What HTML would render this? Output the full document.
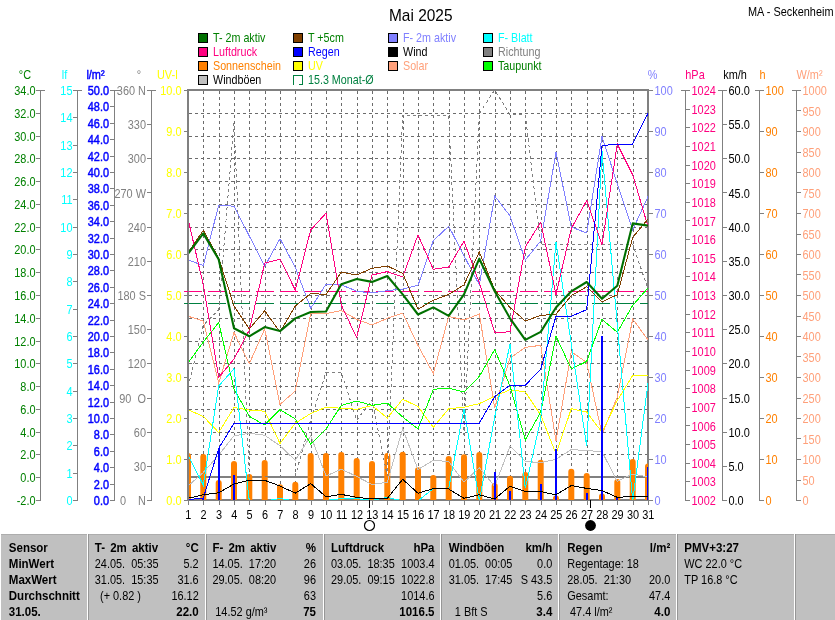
<!DOCTYPE html>
<html lang="de"><head><meta charset="utf-8"><title>Mai 2025 - MA - Seckenheim</title>
<style>html,body{margin:0;padding:0;background:#fff;overflow:hidden}svg{display:block}text{font-family:'Liberation Sans', Arial, sans-serif;white-space:pre}</style></head><body>
<svg width="835" height="620" viewBox="0 0 835 620">
<rect width="835" height="620" fill="#fff"/>
<text transform="translate(389.0,20.5) scale(0.965,1)" font-size="16" fill="#000">Mai 2025</text>
<text transform="translate(833.5,16.0) scale(0.910,1)" font-size="12" text-anchor="end" fill="#000">MA - Seckenheim</text>
<g shape-rendering="crispEdges">
<rect x="198.5" y="33.5" width="9" height="9" fill="#007000" stroke="#000" stroke-width="1"/>
<rect x="198.5" y="47.5" width="9" height="9" fill="#FF0080" stroke="#000" stroke-width="1"/>
<rect x="198.5" y="61.5" width="9" height="9" fill="#FF8000" stroke="#000" stroke-width="1"/>
<rect x="198.5" y="75.5" width="9" height="9" fill="#C0C0C0" stroke="#000" stroke-width="1"/>
<rect x="293.5" y="33.5" width="9" height="9" fill="#804000" stroke="#000" stroke-width="1"/>
<rect x="293.5" y="47.5" width="9" height="9" fill="#0000FF" stroke="#000" stroke-width="1"/>
<rect x="293.5" y="61.5" width="9" height="9" fill="#FFFF00" stroke="#000" stroke-width="1"/>
<path d="M293.5 85.0V75.5H302.5V84.5H299.0" fill="none" stroke="#008040" stroke-width="1"/>
<rect x="388.5" y="33.5" width="9" height="9" fill="#8080FF" stroke="#000" stroke-width="1"/>
<rect x="388.5" y="47.5" width="9" height="9" fill="#000" stroke="#000" stroke-width="1"/>
<rect x="388.5" y="61.5" width="9" height="9" fill="#FFA07A" stroke="#000" stroke-width="1"/>
<rect x="483.5" y="33.5" width="9" height="9" fill="#00FFFF" stroke="#000" stroke-width="1"/>
<rect x="483.5" y="47.5" width="9" height="9" fill="#808080" stroke="#000" stroke-width="1"/>
<rect x="483.5" y="61.5" width="9" height="9" fill="#00FF00" stroke="#000" stroke-width="1"/>
</g>
<text transform="translate(213.0,41.7) scale(0.895,1)" font-size="12" fill="#008000">T- 2m aktiv</text>
<text transform="translate(213.0,55.7) scale(0.895,1)" font-size="12" fill="#FF0080">Luftdruck</text>
<text transform="translate(213.0,69.7) scale(0.895,1)" font-size="12" fill="#FF8000">Sonnenschein</text>
<text transform="translate(213.0,83.7) scale(0.895,1)" font-size="12" fill="#000">Windböen</text>
<text transform="translate(308.0,41.7) scale(0.895,1)" font-size="12" fill="#008000">T +5cm</text>
<text transform="translate(308.0,55.7) scale(0.895,1)" font-size="12" fill="#0000FF">Regen</text>
<text transform="translate(308.0,69.7) scale(0.895,1)" font-size="12" fill="#FFFF00">UV</text>
<text transform="translate(308.0,83.7) scale(0.895,1)" font-size="12" fill="#008040">15.3 Monat-Ø</text>
<text transform="translate(403.0,41.7) scale(0.895,1)" font-size="12" fill="#8080FF">F- 2m aktiv</text>
<text transform="translate(403.0,55.7) scale(0.895,1)" font-size="12" fill="#000">Wind</text>
<text transform="translate(403.0,69.7) scale(0.895,1)" font-size="12" fill="#FFA07A">Solar</text>
<text transform="translate(498.0,41.7) scale(0.895,1)" font-size="12" fill="#00FFFF">F- Blatt</text>
<text transform="translate(498.0,55.7) scale(0.895,1)" font-size="12" fill="#808080">Richtung</text>
<text transform="translate(498.0,69.7) scale(0.895,1)" font-size="12" fill="#008000">Taupunkt</text>
<g shape-rendering="crispEdges" stroke="#808080" stroke-width="1" fill="none">
<path d="M40.5 90.0V500.5"/>
<path d="M36.0 90.5H45.0"/>
<path d="M36.0 113.5H41.0"/>
<path d="M36.0 136.5H41.0"/>
<path d="M36.0 158.5H41.0"/>
<path d="M36.0 181.5H41.0"/>
<path d="M36.0 204.5H41.0"/>
<path d="M36.0 227.5H41.0"/>
<path d="M36.0 249.5H41.0"/>
<path d="M36.0 272.5H41.0"/>
<path d="M36.0 295.5H41.0"/>
<path d="M36.0 318.5H41.0"/>
<path d="M36.0 341.5H41.0"/>
<path d="M36.0 363.5H41.0"/>
<path d="M36.0 386.5H41.0"/>
<path d="M36.0 409.5H41.0"/>
<path d="M36.0 432.5H41.0"/>
<path d="M36.0 454.5H41.0"/>
<path d="M36.0 477.5H41.0"/>
<path d="M36.0 500.5H41.0"/>
<path d="M77.5 90.0V500.5"/>
<path d="M73.0 90.5H82.0"/>
<path d="M73.0 117.5H78.0"/>
<path d="M73.0 145.5H78.0"/>
<path d="M73.0 172.5H78.0"/>
<path d="M73.0 199.5H78.0"/>
<path d="M73.0 227.5H78.0"/>
<path d="M73.0 254.5H78.0"/>
<path d="M73.0 281.5H78.0"/>
<path d="M73.0 309.5H78.0"/>
<path d="M73.0 336.5H78.0"/>
<path d="M73.0 363.5H78.0"/>
<path d="M73.0 391.5H78.0"/>
<path d="M73.0 418.5H78.0"/>
<path d="M73.0 445.5H78.0"/>
<path d="M73.0 473.5H78.0"/>
<path d="M73.0 500.5H78.0"/>
<path d="M114.5 90.0V500.5"/>
<path d="M110.0 90.5H119.0"/>
<path d="M110.0 106.5H115.0"/>
<path d="M110.0 123.5H115.0"/>
<path d="M110.0 139.5H115.0"/>
<path d="M110.0 156.5H115.0"/>
<path d="M110.0 172.5H115.0"/>
<path d="M110.0 188.5H115.0"/>
<path d="M110.0 205.5H115.0"/>
<path d="M110.0 221.5H115.0"/>
<path d="M110.0 238.5H115.0"/>
<path d="M110.0 254.5H115.0"/>
<path d="M110.0 270.5H115.0"/>
<path d="M110.0 287.5H115.0"/>
<path d="M110.0 303.5H115.0"/>
<path d="M110.0 320.5H115.0"/>
<path d="M110.0 336.5H115.0"/>
<path d="M110.0 352.5H115.0"/>
<path d="M110.0 369.5H115.0"/>
<path d="M110.0 385.5H115.0"/>
<path d="M110.0 402.5H115.0"/>
<path d="M110.0 418.5H115.0"/>
<path d="M110.0 434.5H115.0"/>
<path d="M110.0 451.5H115.0"/>
<path d="M110.0 467.5H115.0"/>
<path d="M110.0 484.5H115.0"/>
<path d="M110.0 500.5H115.0"/>
<path d="M151.5 90.0V500.5"/>
<path d="M147.0 90.5H156.0"/>
<path d="M147.0 124.5H152.0"/>
<path d="M147.0 158.5H152.0"/>
<path d="M147.0 192.5H152.0"/>
<path d="M147.0 227.5H152.0"/>
<path d="M147.0 261.5H152.0"/>
<path d="M147.0 295.5H152.0"/>
<path d="M147.0 329.5H152.0"/>
<path d="M147.0 363.5H152.0"/>
<path d="M147.0 398.5H152.0"/>
<path d="M147.0 432.5H152.0"/>
<path d="M147.0 466.5H152.0"/>
<path d="M147.0 500.5H152.0"/>
<path d="M184 90.5H188"/>
<path d="M184 131.5H188"/>
<path d="M184 172.5H188"/>
<path d="M184 213.5H188"/>
<path d="M184 254.5H188"/>
<path d="M184 295.5H188"/>
<path d="M184 336.5H188"/>
<path d="M184 377.5H188"/>
<path d="M184 418.5H188"/>
<path d="M184 459.5H188"/>
<path d="M184 500.5H188"/>
<path d="M648 90.5H653"/>
<path d="M648 131.5H653"/>
<path d="M648 172.5H653"/>
<path d="M648 213.5H653"/>
<path d="M648 254.5H653"/>
<path d="M648 295.5H653"/>
<path d="M648 336.5H653"/>
<path d="M648 377.5H653"/>
<path d="M648 418.5H653"/>
<path d="M648 459.5H653"/>
<path d="M648 500.5H653"/>
<path d="M685.5 90.0V500.5"/>
<path d="M681.0 90.5H690.0"/>
<path d="M685.0 109.5H690.0"/>
<path d="M685.0 127.5H690.0"/>
<path d="M685.0 146.5H690.0"/>
<path d="M685.0 165.5H690.0"/>
<path d="M685.0 183.5H690.0"/>
<path d="M685.0 202.5H690.0"/>
<path d="M685.0 220.5H690.0"/>
<path d="M685.0 239.5H690.0"/>
<path d="M685.0 258.5H690.0"/>
<path d="M685.0 276.5H690.0"/>
<path d="M685.0 295.5H690.0"/>
<path d="M685.0 314.5H690.0"/>
<path d="M685.0 332.5H690.0"/>
<path d="M685.0 351.5H690.0"/>
<path d="M685.0 370.5H690.0"/>
<path d="M685.0 388.5H690.0"/>
<path d="M685.0 407.5H690.0"/>
<path d="M685.0 425.5H690.0"/>
<path d="M685.0 444.5H690.0"/>
<path d="M685.0 463.5H690.0"/>
<path d="M685.0 481.5H690.0"/>
<path d="M685.0 500.5H690.0"/>
<path d="M722.5 90.0V500.5"/>
<path d="M718.0 90.5H727.0"/>
<path d="M722.0 124.5H727.0"/>
<path d="M722.0 158.5H727.0"/>
<path d="M722.0 192.5H727.0"/>
<path d="M722.0 227.5H727.0"/>
<path d="M722.0 261.5H727.0"/>
<path d="M722.0 295.5H727.0"/>
<path d="M722.0 329.5H727.0"/>
<path d="M722.0 363.5H727.0"/>
<path d="M722.0 398.5H727.0"/>
<path d="M722.0 432.5H727.0"/>
<path d="M722.0 466.5H727.0"/>
<path d="M722.0 500.5H727.0"/>
<path d="M759.5 90.0V500.5"/>
<path d="M755.0 90.5H764.0"/>
<path d="M759.0 131.5H764.0"/>
<path d="M759.0 172.5H764.0"/>
<path d="M759.0 213.5H764.0"/>
<path d="M759.0 254.5H764.0"/>
<path d="M759.0 295.5H764.0"/>
<path d="M759.0 336.5H764.0"/>
<path d="M759.0 377.5H764.0"/>
<path d="M759.0 418.5H764.0"/>
<path d="M759.0 459.5H764.0"/>
<path d="M759.0 500.5H764.0"/>
<path d="M796.5 90.0V500.5"/>
<path d="M792.0 90.5H801.0"/>
<path d="M796.0 110.5H801.0"/>
<path d="M796.0 131.5H801.0"/>
<path d="M796.0 152.5H801.0"/>
<path d="M796.0 172.5H801.0"/>
<path d="M796.0 192.5H801.0"/>
<path d="M796.0 213.5H801.0"/>
<path d="M796.0 234.5H801.0"/>
<path d="M796.0 254.5H801.0"/>
<path d="M796.0 274.5H801.0"/>
<path d="M796.0 295.5H801.0"/>
<path d="M796.0 316.5H801.0"/>
<path d="M796.0 336.5H801.0"/>
<path d="M796.0 356.5H801.0"/>
<path d="M796.0 377.5H801.0"/>
<path d="M796.0 398.5H801.0"/>
<path d="M796.0 418.5H801.0"/>
<path d="M796.0 438.5H801.0"/>
<path d="M796.0 459.5H801.0"/>
<path d="M796.0 480.5H801.0"/>
<path d="M796.0 500.5H801.0"/>
</g>
<text transform="translate(35.5,95.0) scale(0.910,1)" font-size="12" text-anchor="end" fill="#008000">34.0</text>
<text transform="translate(35.5,117.8) scale(0.910,1)" font-size="12" text-anchor="end" fill="#008000">32.0</text>
<text transform="translate(35.5,140.6) scale(0.910,1)" font-size="12" text-anchor="end" fill="#008000">30.0</text>
<text transform="translate(35.5,163.3) scale(0.910,1)" font-size="12" text-anchor="end" fill="#008000">28.0</text>
<text transform="translate(35.5,186.1) scale(0.910,1)" font-size="12" text-anchor="end" fill="#008000">26.0</text>
<text transform="translate(35.5,208.9) scale(0.910,1)" font-size="12" text-anchor="end" fill="#008000">24.0</text>
<text transform="translate(35.5,231.7) scale(0.910,1)" font-size="12" text-anchor="end" fill="#008000">22.0</text>
<text transform="translate(35.5,254.4) scale(0.910,1)" font-size="12" text-anchor="end" fill="#008000">20.0</text>
<text transform="translate(35.5,277.2) scale(0.910,1)" font-size="12" text-anchor="end" fill="#008000">18.0</text>
<text transform="translate(35.5,300.0) scale(0.910,1)" font-size="12" text-anchor="end" fill="#008000">16.0</text>
<text transform="translate(35.5,322.8) scale(0.910,1)" font-size="12" text-anchor="end" fill="#008000">14.0</text>
<text transform="translate(35.5,345.6) scale(0.910,1)" font-size="12" text-anchor="end" fill="#008000">12.0</text>
<text transform="translate(35.5,368.3) scale(0.910,1)" font-size="12" text-anchor="end" fill="#008000">10.0</text>
<text transform="translate(35.5,391.1) scale(0.910,1)" font-size="12" text-anchor="end" fill="#008000">8.0</text>
<text transform="translate(35.5,413.9) scale(0.910,1)" font-size="12" text-anchor="end" fill="#008000">6.0</text>
<text transform="translate(35.5,436.7) scale(0.910,1)" font-size="12" text-anchor="end" fill="#008000">4.0</text>
<text transform="translate(35.5,459.4) scale(0.910,1)" font-size="12" text-anchor="end" fill="#008000">2.0</text>
<text transform="translate(35.5,482.2) scale(0.910,1)" font-size="12" text-anchor="end" fill="#008000">0.0</text>
<text transform="translate(35.5,505.0) scale(0.910,1)" font-size="12" text-anchor="end" fill="#008000">-2.0</text>
<text transform="translate(72.5,95.0) scale(0.910,1)" font-size="12" text-anchor="end" fill="#00FFFF">15</text>
<text transform="translate(72.5,122.3) scale(0.910,1)" font-size="12" text-anchor="end" fill="#00FFFF">14</text>
<text transform="translate(72.5,149.7) scale(0.910,1)" font-size="12" text-anchor="end" fill="#00FFFF">13</text>
<text transform="translate(72.5,177.0) scale(0.910,1)" font-size="12" text-anchor="end" fill="#00FFFF">12</text>
<text transform="translate(72.5,204.3) scale(0.910,1)" font-size="12" text-anchor="end" fill="#00FFFF">11</text>
<text transform="translate(72.5,231.7) scale(0.910,1)" font-size="12" text-anchor="end" fill="#00FFFF">10</text>
<text transform="translate(72.5,259.0) scale(0.910,1)" font-size="12" text-anchor="end" fill="#00FFFF">9</text>
<text transform="translate(72.5,286.3) scale(0.910,1)" font-size="12" text-anchor="end" fill="#00FFFF">8</text>
<text transform="translate(72.5,313.7) scale(0.910,1)" font-size="12" text-anchor="end" fill="#00FFFF">7</text>
<text transform="translate(72.5,341.0) scale(0.910,1)" font-size="12" text-anchor="end" fill="#00FFFF">6</text>
<text transform="translate(72.5,368.3) scale(0.910,1)" font-size="12" text-anchor="end" fill="#00FFFF">5</text>
<text transform="translate(72.5,395.7) scale(0.910,1)" font-size="12" text-anchor="end" fill="#00FFFF">4</text>
<text transform="translate(72.5,423.0) scale(0.910,1)" font-size="12" text-anchor="end" fill="#00FFFF">3</text>
<text transform="translate(72.5,450.3) scale(0.910,1)" font-size="12" text-anchor="end" fill="#00FFFF">2</text>
<text transform="translate(72.5,477.7) scale(0.910,1)" font-size="12" text-anchor="end" fill="#00FFFF">1</text>
<text transform="translate(72.5,505.0) scale(0.910,1)" font-size="12" text-anchor="end" fill="#00FFFF">0</text>
<text transform="translate(109.0,95.0) scale(0.910,1)" font-size="12" text-anchor="end" stroke="#0000FF" stroke-width="0.45" fill="#0000FF">50.0</text>
<text transform="translate(109.0,111.4) scale(0.910,1)" font-size="12" text-anchor="end" stroke="#0000FF" stroke-width="0.45" fill="#0000FF">48.0</text>
<text transform="translate(109.0,127.8) scale(0.910,1)" font-size="12" text-anchor="end" stroke="#0000FF" stroke-width="0.45" fill="#0000FF">46.0</text>
<text transform="translate(109.0,144.2) scale(0.910,1)" font-size="12" text-anchor="end" stroke="#0000FF" stroke-width="0.45" fill="#0000FF">44.0</text>
<text transform="translate(109.0,160.6) scale(0.910,1)" font-size="12" text-anchor="end" stroke="#0000FF" stroke-width="0.45" fill="#0000FF">42.0</text>
<text transform="translate(109.0,177.0) scale(0.910,1)" font-size="12" text-anchor="end" stroke="#0000FF" stroke-width="0.45" fill="#0000FF">40.0</text>
<text transform="translate(109.0,193.4) scale(0.910,1)" font-size="12" text-anchor="end" stroke="#0000FF" stroke-width="0.45" fill="#0000FF">38.0</text>
<text transform="translate(109.0,209.8) scale(0.910,1)" font-size="12" text-anchor="end" stroke="#0000FF" stroke-width="0.45" fill="#0000FF">36.0</text>
<text transform="translate(109.0,226.2) scale(0.910,1)" font-size="12" text-anchor="end" stroke="#0000FF" stroke-width="0.45" fill="#0000FF">34.0</text>
<text transform="translate(109.0,242.6) scale(0.910,1)" font-size="12" text-anchor="end" stroke="#0000FF" stroke-width="0.45" fill="#0000FF">32.0</text>
<text transform="translate(109.0,259.0) scale(0.910,1)" font-size="12" text-anchor="end" stroke="#0000FF" stroke-width="0.45" fill="#0000FF">30.0</text>
<text transform="translate(109.0,275.4) scale(0.910,1)" font-size="12" text-anchor="end" stroke="#0000FF" stroke-width="0.45" fill="#0000FF">28.0</text>
<text transform="translate(109.0,291.8) scale(0.910,1)" font-size="12" text-anchor="end" stroke="#0000FF" stroke-width="0.45" fill="#0000FF">26.0</text>
<text transform="translate(109.0,308.2) scale(0.910,1)" font-size="12" text-anchor="end" stroke="#0000FF" stroke-width="0.45" fill="#0000FF">24.0</text>
<text transform="translate(109.0,324.6) scale(0.910,1)" font-size="12" text-anchor="end" stroke="#0000FF" stroke-width="0.45" fill="#0000FF">22.0</text>
<text transform="translate(109.0,341.0) scale(0.910,1)" font-size="12" text-anchor="end" stroke="#0000FF" stroke-width="0.45" fill="#0000FF">20.0</text>
<text transform="translate(109.0,357.4) scale(0.910,1)" font-size="12" text-anchor="end" stroke="#0000FF" stroke-width="0.45" fill="#0000FF">18.0</text>
<text transform="translate(109.0,373.8) scale(0.910,1)" font-size="12" text-anchor="end" stroke="#0000FF" stroke-width="0.45" fill="#0000FF">16.0</text>
<text transform="translate(109.0,390.2) scale(0.910,1)" font-size="12" text-anchor="end" stroke="#0000FF" stroke-width="0.45" fill="#0000FF">14.0</text>
<text transform="translate(109.0,406.6) scale(0.910,1)" font-size="12" text-anchor="end" stroke="#0000FF" stroke-width="0.45" fill="#0000FF">12.0</text>
<text transform="translate(109.0,423.0) scale(0.910,1)" font-size="12" text-anchor="end" stroke="#0000FF" stroke-width="0.45" fill="#0000FF">10.0</text>
<text transform="translate(109.0,439.4) scale(0.910,1)" font-size="12" text-anchor="end" stroke="#0000FF" stroke-width="0.45" fill="#0000FF">8.0</text>
<text transform="translate(109.0,455.8) scale(0.910,1)" font-size="12" text-anchor="end" stroke="#0000FF" stroke-width="0.45" fill="#0000FF">6.0</text>
<text transform="translate(109.0,472.2) scale(0.910,1)" font-size="12" text-anchor="end" stroke="#0000FF" stroke-width="0.45" fill="#0000FF">4.0</text>
<text transform="translate(109.0,488.6) scale(0.910,1)" font-size="12" text-anchor="end" stroke="#0000FF" stroke-width="0.45" fill="#0000FF">2.0</text>
<text transform="translate(109.0,505.0) scale(0.910,1)" font-size="12" text-anchor="end" stroke="#0000FF" stroke-width="0.45" fill="#0000FF">0.0</text>
<text transform="translate(146.0,95.0) scale(0.910,1)" font-size="12" text-anchor="end" fill="#808080">360 N</text>
<text transform="translate(146.0,129.2) scale(0.910,1)" font-size="12" text-anchor="end" fill="#808080">330</text>
<text transform="translate(146.0,163.3) scale(0.910,1)" font-size="12" text-anchor="end" fill="#808080">300</text>
<text transform="translate(146.0,197.5) scale(0.910,1)" font-size="12" text-anchor="end" fill="#808080">270 W</text>
<text transform="translate(146.0,231.7) scale(0.910,1)" font-size="12" text-anchor="end" fill="#808080">240</text>
<text transform="translate(146.0,265.8) scale(0.910,1)" font-size="12" text-anchor="end" fill="#808080">210</text>
<text transform="translate(146.0,300.0) scale(0.910,1)" font-size="12" text-anchor="end" fill="#808080">180 S</text>
<text transform="translate(146.0,334.2) scale(0.910,1)" font-size="12" text-anchor="end" fill="#808080">150</text>
<text transform="translate(146.0,368.3) scale(0.910,1)" font-size="12" text-anchor="end" fill="#808080">120</text>
<text transform="translate(146.0,402.5) scale(0.910,1)" font-size="12" text-anchor="end" fill="#808080">90  O</text>
<text transform="translate(146.0,436.7) scale(0.910,1)" font-size="12" text-anchor="end" fill="#808080">60</text>
<text transform="translate(146.0,470.8) scale(0.910,1)" font-size="12" text-anchor="end" fill="#808080">30</text>
<text transform="translate(146.0,505.0) scale(0.910,1)" font-size="12" text-anchor="end" fill="#808080">0    N</text>
<text transform="translate(181.5,95.0) scale(0.910,1)" font-size="12" text-anchor="end" fill="#FFFF00">10.0</text>
<text transform="translate(181.5,136.0) scale(0.910,1)" font-size="12" text-anchor="end" fill="#FFFF00">9.0</text>
<text transform="translate(181.5,177.0) scale(0.910,1)" font-size="12" text-anchor="end" fill="#FFFF00">8.0</text>
<text transform="translate(181.5,218.0) scale(0.910,1)" font-size="12" text-anchor="end" fill="#FFFF00">7.0</text>
<text transform="translate(181.5,259.0) scale(0.910,1)" font-size="12" text-anchor="end" fill="#FFFF00">6.0</text>
<text transform="translate(181.5,300.0) scale(0.910,1)" font-size="12" text-anchor="end" fill="#FFFF00">5.0</text>
<text transform="translate(181.5,341.0) scale(0.910,1)" font-size="12" text-anchor="end" fill="#FFFF00">4.0</text>
<text transform="translate(181.5,382.0) scale(0.910,1)" font-size="12" text-anchor="end" fill="#FFFF00">3.0</text>
<text transform="translate(181.5,423.0) scale(0.910,1)" font-size="12" text-anchor="end" fill="#FFFF00">2.0</text>
<text transform="translate(181.5,464.0) scale(0.910,1)" font-size="12" text-anchor="end" fill="#FFFF00">1.0</text>
<text transform="translate(181.5,505.0) scale(0.910,1)" font-size="12" text-anchor="end" fill="#FFFF00">0.0</text>
<text transform="translate(654.5,95.0) scale(0.910,1)" font-size="12" fill="#8080FF">100</text>
<text transform="translate(654.5,136.0) scale(0.910,1)" font-size="12" fill="#8080FF">90</text>
<text transform="translate(654.5,177.0) scale(0.910,1)" font-size="12" fill="#8080FF">80</text>
<text transform="translate(654.5,218.0) scale(0.910,1)" font-size="12" fill="#8080FF">70</text>
<text transform="translate(654.5,259.0) scale(0.910,1)" font-size="12" fill="#8080FF">60</text>
<text transform="translate(654.5,300.0) scale(0.910,1)" font-size="12" fill="#8080FF">50</text>
<text transform="translate(654.5,341.0) scale(0.910,1)" font-size="12" fill="#8080FF">40</text>
<text transform="translate(654.5,382.0) scale(0.910,1)" font-size="12" fill="#8080FF">30</text>
<text transform="translate(654.5,423.0) scale(0.910,1)" font-size="12" fill="#8080FF">20</text>
<text transform="translate(654.5,464.0) scale(0.910,1)" font-size="12" fill="#8080FF">10</text>
<text transform="translate(654.5,505.0) scale(0.910,1)" font-size="12" fill="#8080FF">0</text>
<text transform="translate(691.5,95.0) scale(0.910,1)" font-size="12" fill="#FF0080">1024</text>
<text transform="translate(691.5,113.6) scale(0.910,1)" font-size="12" fill="#FF0080">1023</text>
<text transform="translate(691.5,132.3) scale(0.910,1)" font-size="12" fill="#FF0080">1022</text>
<text transform="translate(691.5,150.9) scale(0.910,1)" font-size="12" fill="#FF0080">1021</text>
<text transform="translate(691.5,169.5) scale(0.910,1)" font-size="12" fill="#FF0080">1020</text>
<text transform="translate(691.5,188.2) scale(0.910,1)" font-size="12" fill="#FF0080">1019</text>
<text transform="translate(691.5,206.8) scale(0.910,1)" font-size="12" fill="#FF0080">1018</text>
<text transform="translate(691.5,225.5) scale(0.910,1)" font-size="12" fill="#FF0080">1017</text>
<text transform="translate(691.5,244.1) scale(0.910,1)" font-size="12" fill="#FF0080">1016</text>
<text transform="translate(691.5,262.7) scale(0.910,1)" font-size="12" fill="#FF0080">1015</text>
<text transform="translate(691.5,281.4) scale(0.910,1)" font-size="12" fill="#FF0080">1014</text>
<text transform="translate(691.5,300.0) scale(0.910,1)" font-size="12" fill="#FF0080">1013</text>
<text transform="translate(691.5,318.6) scale(0.910,1)" font-size="12" fill="#FF0080">1012</text>
<text transform="translate(691.5,337.3) scale(0.910,1)" font-size="12" fill="#FF0080">1011</text>
<text transform="translate(691.5,355.9) scale(0.910,1)" font-size="12" fill="#FF0080">1010</text>
<text transform="translate(691.5,374.5) scale(0.910,1)" font-size="12" fill="#FF0080">1009</text>
<text transform="translate(691.5,393.2) scale(0.910,1)" font-size="12" fill="#FF0080">1008</text>
<text transform="translate(691.5,411.8) scale(0.910,1)" font-size="12" fill="#FF0080">1007</text>
<text transform="translate(691.5,430.5) scale(0.910,1)" font-size="12" fill="#FF0080">1006</text>
<text transform="translate(691.5,449.1) scale(0.910,1)" font-size="12" fill="#FF0080">1005</text>
<text transform="translate(691.5,467.7) scale(0.910,1)" font-size="12" fill="#FF0080">1004</text>
<text transform="translate(691.5,486.4) scale(0.910,1)" font-size="12" fill="#FF0080">1003</text>
<text transform="translate(691.5,505.0) scale(0.910,1)" font-size="12" fill="#FF0080">1002</text>
<text transform="translate(728.5,95.0) scale(0.910,1)" font-size="12" fill="#000">60.0</text>
<text transform="translate(728.5,129.2) scale(0.910,1)" font-size="12" fill="#000">55.0</text>
<text transform="translate(728.5,163.3) scale(0.910,1)" font-size="12" fill="#000">50.0</text>
<text transform="translate(728.5,197.5) scale(0.910,1)" font-size="12" fill="#000">45.0</text>
<text transform="translate(728.5,231.7) scale(0.910,1)" font-size="12" fill="#000">40.0</text>
<text transform="translate(728.5,265.8) scale(0.910,1)" font-size="12" fill="#000">35.0</text>
<text transform="translate(728.5,300.0) scale(0.910,1)" font-size="12" fill="#000">30.0</text>
<text transform="translate(728.5,334.2) scale(0.910,1)" font-size="12" fill="#000">25.0</text>
<text transform="translate(728.5,368.3) scale(0.910,1)" font-size="12" fill="#000">20.0</text>
<text transform="translate(728.5,402.5) scale(0.910,1)" font-size="12" fill="#000">15.0</text>
<text transform="translate(728.5,436.7) scale(0.910,1)" font-size="12" fill="#000">10.0</text>
<text transform="translate(728.5,470.8) scale(0.910,1)" font-size="12" fill="#000">5.0</text>
<text transform="translate(728.5,505.0) scale(0.910,1)" font-size="12" fill="#000">0.0</text>
<text transform="translate(765.5,95.0) scale(0.910,1)" font-size="12" fill="#FF8000">100</text>
<text transform="translate(765.5,136.0) scale(0.910,1)" font-size="12" fill="#FF8000">90</text>
<text transform="translate(765.5,177.0) scale(0.910,1)" font-size="12" fill="#FF8000">80</text>
<text transform="translate(765.5,218.0) scale(0.910,1)" font-size="12" fill="#FF8000">70</text>
<text transform="translate(765.5,259.0) scale(0.910,1)" font-size="12" fill="#FF8000">60</text>
<text transform="translate(765.5,300.0) scale(0.910,1)" font-size="12" fill="#FF8000">50</text>
<text transform="translate(765.5,341.0) scale(0.910,1)" font-size="12" fill="#FF8000">40</text>
<text transform="translate(765.5,382.0) scale(0.910,1)" font-size="12" fill="#FF8000">30</text>
<text transform="translate(765.5,423.0) scale(0.910,1)" font-size="12" fill="#FF8000">20</text>
<text transform="translate(765.5,464.0) scale(0.910,1)" font-size="12" fill="#FF8000">10</text>
<text transform="translate(765.5,505.0) scale(0.910,1)" font-size="12" fill="#FF8000">0</text>
<text transform="translate(802.5,95.0) scale(0.910,1)" font-size="12" fill="#FFA07A">1000</text>
<text transform="translate(802.5,115.5) scale(0.910,1)" font-size="12" fill="#FFA07A">950</text>
<text transform="translate(802.5,136.0) scale(0.910,1)" font-size="12" fill="#FFA07A">900</text>
<text transform="translate(802.5,156.5) scale(0.910,1)" font-size="12" fill="#FFA07A">850</text>
<text transform="translate(802.5,177.0) scale(0.910,1)" font-size="12" fill="#FFA07A">800</text>
<text transform="translate(802.5,197.5) scale(0.910,1)" font-size="12" fill="#FFA07A">750</text>
<text transform="translate(802.5,218.0) scale(0.910,1)" font-size="12" fill="#FFA07A">700</text>
<text transform="translate(802.5,238.5) scale(0.910,1)" font-size="12" fill="#FFA07A">650</text>
<text transform="translate(802.5,259.0) scale(0.910,1)" font-size="12" fill="#FFA07A">600</text>
<text transform="translate(802.5,279.5) scale(0.910,1)" font-size="12" fill="#FFA07A">550</text>
<text transform="translate(802.5,300.0) scale(0.910,1)" font-size="12" fill="#FFA07A">500</text>
<text transform="translate(802.5,320.5) scale(0.910,1)" font-size="12" fill="#FFA07A">450</text>
<text transform="translate(802.5,341.0) scale(0.910,1)" font-size="12" fill="#FFA07A">400</text>
<text transform="translate(802.5,361.5) scale(0.910,1)" font-size="12" fill="#FFA07A">350</text>
<text transform="translate(802.5,382.0) scale(0.910,1)" font-size="12" fill="#FFA07A">300</text>
<text transform="translate(802.5,402.5) scale(0.910,1)" font-size="12" fill="#FFA07A">250</text>
<text transform="translate(802.5,423.0) scale(0.910,1)" font-size="12" fill="#FFA07A">200</text>
<text transform="translate(802.5,443.5) scale(0.910,1)" font-size="12" fill="#FFA07A">150</text>
<text transform="translate(802.5,464.0) scale(0.910,1)" font-size="12" fill="#FFA07A">100</text>
<text transform="translate(802.5,484.5) scale(0.910,1)" font-size="12" fill="#FFA07A">50</text>
<text transform="translate(802.5,505.0) scale(0.910,1)" font-size="12" fill="#FFA07A">0</text>
<text transform="translate(25.0,79.0) scale(0.910,1)" font-size="12" text-anchor="middle" fill="#008000">°C</text>
<text transform="translate(64.5,79.0) scale(0.910,1)" font-size="12" text-anchor="middle" fill="#00FFFF">lf</text>
<text transform="translate(95.5,79.0) scale(0.910,1)" font-size="12" text-anchor="middle" stroke="#0000FF" stroke-width="0.45" fill="#0000FF">l/m²</text>
<text transform="translate(139.0,79.0) scale(0.910,1)" font-size="12" text-anchor="middle" fill="#808080">°</text>
<text transform="translate(167.5,79.0) scale(0.910,1)" font-size="12" text-anchor="middle" fill="#FFFF00">UV-I</text>
<text transform="translate(652.5,79.0) scale(0.910,1)" font-size="12" text-anchor="middle" fill="#8080FF">%</text>
<text transform="translate(695.0,79.0) scale(0.910,1)" font-size="12" text-anchor="middle" fill="#FF0080">hPa</text>
<text transform="translate(735.0,79.0) scale(0.910,1)" font-size="12" text-anchor="middle" fill="#000">km/h</text>
<text transform="translate(762.5,79.0) scale(0.910,1)" font-size="12" text-anchor="middle" fill="#FF8000">h</text>
<text transform="translate(809.5,79.0) scale(0.910,1)" font-size="12" text-anchor="middle" fill="#FFA07A">W/m²</text>
<g shape-rendering="crispEdges">
<path d="M203.5 91V499M219.5 91V499M234.5 91V499M249.5 91V499M265.5 91V499M280.5 91V499M295.5 91V499M311.5 91V499M326.5 91V499M341.5 91V499M357.5 91V499M372.5 91V499M387.5 91V499M403.5 91V499M418.5 91V499M433.5 91V499M449.5 91V499M464.5 91V499M479.5 91V499M495.5 91V499M510.5 91V499M525.5 91V499M541.5 91V499M556.5 91V499M571.5 91V499M587.5 91V499M602.5 91V499M617.5 91V499M633.5 91V499" stroke="#6c6c6c" stroke-width="1" stroke-dasharray="3 3" fill="none"/>
<path d="M189 113.5H647M189 136.5H647M189 158.5H647M189 181.5H647M189 204.5H647M189 227.5H647M189 249.5H647M189 272.5H647M189 295.5H647M189 318.5H647M189 341.5H647M189 363.5H647M189 386.5H647M189 409.5H647M189 432.5H647M189 454.5H647M189 477.5H647" stroke="#6c6c6c" stroke-width="1" stroke-dasharray="3 3" fill="none"/>
<path d="M190 477H648" stroke="#808080" stroke-width="2" fill="none"/>
</g>
<path d="M188 500V90H648V500Z" fill="none" stroke="#808080" stroke-width="2" shape-rendering="crispEdges"/>
<defs><clipPath id="pc"><rect x="189" y="89" width="459" height="411"/></clipPath></defs>
<g clip-path="url(#pc)">
<path d="M188.0 500V456.0" stroke="#FF8000" stroke-width="6" stroke-linecap="round" fill="none"/>
<path d="M203.3 500V457.0" stroke="#FF8000" stroke-width="6" stroke-linecap="round" fill="none"/>
<path d="M218.7 500V483.0" stroke="#FF8000" stroke-width="6" stroke-linecap="round" fill="none"/>
<path d="M234.0 500V464.0" stroke="#FF8000" stroke-width="6" stroke-linecap="round" fill="none"/>
<path d="M249.3 500V477.0" stroke="#FF8000" stroke-width="6" stroke-linecap="round" fill="none"/>
<path d="M264.7 500V463.0" stroke="#FF8000" stroke-width="6" stroke-linecap="round" fill="none"/>
<path d="M280.0 500V487.2" stroke="#FF8000" stroke-width="6" stroke-linecap="round" fill="none"/>
<path d="M295.3 500V484.7" stroke="#FF8000" stroke-width="6" stroke-linecap="round" fill="none"/>
<path d="M310.7 500V456.0" stroke="#FF8000" stroke-width="6" stroke-linecap="round" fill="none"/>
<path d="M326.0 500V456.0" stroke="#FF8000" stroke-width="6" stroke-linecap="round" fill="none"/>
<path d="M341.3 500V455.0" stroke="#FF8000" stroke-width="6" stroke-linecap="round" fill="none"/>
<path d="M356.7 500V461.0" stroke="#FF8000" stroke-width="6" stroke-linecap="round" fill="none"/>
<path d="M372.0 500V464.0" stroke="#FF8000" stroke-width="6" stroke-linecap="round" fill="none"/>
<path d="M387.3 500V456.0" stroke="#FF8000" stroke-width="6" stroke-linecap="round" fill="none"/>
<path d="M402.7 500V454.8" stroke="#FF8000" stroke-width="6" stroke-linecap="round" fill="none"/>
<path d="M418.0 500V470.2" stroke="#FF8000" stroke-width="6" stroke-linecap="round" fill="none"/>
<path d="M433.3 500V478.0" stroke="#FF8000" stroke-width="6" stroke-linecap="round" fill="none"/>
<path d="M448.7 500V459.0" stroke="#FF8000" stroke-width="6" stroke-linecap="round" fill="none"/>
<path d="M464.0 500V457.2" stroke="#FF8000" stroke-width="6" stroke-linecap="round" fill="none"/>
<path d="M479.3 500V455.0" stroke="#FF8000" stroke-width="6" stroke-linecap="round" fill="none"/>
<path d="M494.7 500V486.0" stroke="#FF8000" stroke-width="6" stroke-linecap="round" fill="none"/>
<path d="M510.0 500V478.8" stroke="#FF8000" stroke-width="6" stroke-linecap="round" fill="none"/>
<path d="M525.3 500V474.9" stroke="#FF8000" stroke-width="6" stroke-linecap="round" fill="none"/>
<path d="M540.7 500V462.8" stroke="#FF8000" stroke-width="6" stroke-linecap="round" fill="none"/>
<path d="M556.0 500V498.6" stroke="#FF8000" stroke-width="6" stroke-linecap="round" fill="none"/>
<path d="M571.3 500V471.8" stroke="#FF8000" stroke-width="6" stroke-linecap="round" fill="none"/>
<path d="M586.7 500V476.0" stroke="#FF8000" stroke-width="6" stroke-linecap="round" fill="none"/>
<path d="M602.0 500V496.4" stroke="#FF8000" stroke-width="6" stroke-linecap="round" fill="none"/>
<path d="M617.3 500V482.0" stroke="#FF8000" stroke-width="6" stroke-linecap="round" fill="none"/>
<path d="M632.7 500V462.0" stroke="#FF8000" stroke-width="6" stroke-linecap="round" fill="none"/>
<path d="M648.0 500V466.4" stroke="#FF8000" stroke-width="6" stroke-linecap="round" fill="none"/>
<g shape-rendering="crispEdges">
<path d="M184 291.5H648" stroke="#FF0080" stroke-width="1" stroke-dasharray="18 6" fill="none"/>
<path d="M184 303.5H648" stroke="#008040" stroke-width="1" stroke-dasharray="18 6" fill="none"/>
<path d="M387.3 476.0L388.5 448.0" stroke="#fff" stroke-width="1" fill="none"/>
<polyline points="188.0,387.0 203.3,325.0 218.7,310.0 234.0,123.0 249.3,476.0 264.7,476.0 280.0,476.0 295.3,476.0 310.7,420.0 326.0,372.5 341.3,372.5 356.7,420.3 372.0,400.0 387.3,476.0 402.7,115.4 418.0,115.4 433.3,115.4 448.7,115.4 464.0,435.0 479.3,113.5 494.7,90.0 510.0,114.5 525.3,114.5 540.7,244.3 556.0,244.3 571.3,244.3 586.7,244.3 602.0,244.3 617.3,244.3 632.7,244.3 648.0,289.0" fill="none" stroke="#808080" stroke-width="1" stroke-dasharray="3 3"/>
<polyline points="188.0,486.0 203.3,472.5 218.7,455.0 234.0,435.8 249.3,433.3 264.7,435.2 280.0,445.8 295.3,460.3 310.7,435.8 326.0,476.0 341.3,469.2 356.7,476.4 372.0,484.5 387.3,482.2 402.7,428.6 418.0,469.6 433.3,460.3 448.7,461.5 464.0,482.2 479.3,467.7 494.7,486.2 510.0,446.3 525.3,461.4 540.7,462.7 556.0,459.3 571.3,449.6 586.7,450.5 602.0,451.7 617.3,481.3 632.7,474.0 648.0,477.0" fill="none" stroke="#C0C0C0" stroke-width="1" />
<polyline points="188.0,316.2 203.3,321.0 218.7,383.2 234.0,332.5 249.3,363.6 264.7,329.0 280.0,404.4 295.3,391.0 310.7,313.5 326.0,313.5 341.3,310.6 356.7,319.3 372.0,325.0 387.3,318.4 402.7,313.0 418.0,345.5 433.3,373.5 448.7,316.4 464.0,320.0 479.3,314.0 494.7,407.8 510.0,358.2 525.3,347.4 540.7,345.3 556.0,441.0 571.3,351.7 586.7,362.5 602.0,434.5 617.3,397.0 632.7,319.0 648.0,339.9" fill="none" stroke="#FFA07A" stroke-width="1" />
<polyline points="188.0,409.8 203.3,416.4 218.7,432.5 234.0,407.6 249.3,410.0 264.7,411.2 280.0,443.5 295.3,423.2 310.7,413.5 326.0,407.2 341.3,408.2 356.7,409.3 372.0,405.4 387.3,418.0 402.7,399.2 418.0,406.6 433.3,427.2 448.7,408.7 464.0,407.2 479.3,403.6 494.7,396.3 510.0,389.7 525.3,392.0 540.7,415.0 556.0,453.9 571.3,408.7 586.7,412.0 602.0,432.3 617.3,400.5 632.7,375.4 648.0,375.4" fill="none" stroke="#FFFF00" stroke-width="1" />
<polyline points="188.0,363.0 203.3,342.0 218.7,322.5 234.0,389.0 249.3,416.4 264.7,425.0 280.0,409.7 295.3,419.0 310.7,444.0 326.0,429.0 341.3,405.4 356.7,401.0 372.0,405.4 387.3,403.0 402.7,417.0 418.0,429.0 433.3,389.3 448.7,388.2 464.0,392.0 479.3,376.4 494.7,349.6 510.0,386.0 525.3,439.9 540.7,412.0 556.0,336.2 571.3,369.0 586.7,361.4 602.0,319.4 617.3,332.3 632.7,305.4 648.0,288.0" fill="none" stroke="#00FF00" stroke-width="1" />
<polyline points="188.0,455.0 203.3,485.0 218.7,386.0 234.0,368.7 249.3,501.0 264.7,501.0 280.0,498.6 295.3,501.0 310.7,501.0 326.0,500.4 341.3,498.6 356.7,498.6 372.0,500.4 387.3,497.3 402.7,501.0 418.0,501.0 433.3,488.4 448.7,488.4 464.0,408.6 479.3,501.0 494.7,417.0 510.0,344.0 525.3,488.4 540.7,419.0 556.0,241.8 571.3,344.0 586.7,446.3 602.0,151.0 617.3,325.0 632.7,501.0 648.0,383.0" fill="none" stroke="#00FFFF" stroke-width="1" />
<polyline points="188.0,259.8 203.3,265.6 218.7,205.1 234.0,206.2 249.3,236.0 264.7,266.4 280.0,238.7 295.3,267.4 310.7,308.4 326.0,284.2 341.3,284.8 356.7,291.2 372.0,293.0 387.3,290.6 402.7,289.0 418.0,285.4 433.3,240.7 448.7,226.2 464.0,255.8 479.3,284.8 494.7,196.0 510.0,215.9 525.3,260.0 540.7,241.0 556.0,152.2 571.3,227.0 586.7,233.0 602.0,136.5 617.3,184.0 632.7,230.0 648.0,196.5" fill="none" stroke="#8080FF" stroke-width="1" />
<polyline points="188.0,218.8 203.3,285.0 218.7,377.4 234.0,359.0 249.3,330.2 264.7,263.2 280.0,259.2 295.3,290.0 310.7,230.0 326.0,213.2 341.3,305.0 356.7,337.7 372.0,275.0 387.3,271.6 402.7,277.0 418.0,234.9 433.3,269.3 448.7,267.0 464.0,241.3 479.3,282.8 494.7,332.3 510.0,331.9 525.3,247.0 540.7,222.2 556.0,294.5 571.3,228.5 586.7,200.5 602.0,244.5 617.3,144.0 632.7,174.8 648.0,226.6" fill="none" stroke="#FF0080" stroke-width="1" />
<polyline points="188.0,253.0 203.3,230.3 218.7,258.2 234.0,306.0 249.3,329.0 264.7,310.8 280.0,332.0 295.3,306.0 310.7,293.5 326.0,294.4 341.3,272.2 356.7,275.0 372.0,268.3 387.3,266.0 402.7,273.2 418.0,309.2 433.3,300.3 448.7,294.4 464.0,284.8 479.3,251.9 494.7,290.0 510.0,307.5 525.3,320.9 540.7,315.5 556.0,314.0 571.3,295.6 586.7,286.8 602.0,301.8 617.3,294.7 632.7,237.4 648.0,219.0" fill="none" stroke="#804000" stroke-width="1" />
<path d="M203.0 500V498.0" stroke="#0000FF" stroke-width="2" fill="none"/>
<path d="M219.0 500V448.4" stroke="#0000FF" stroke-width="2" fill="none"/>
<path d="M234.0 500V475.4" stroke="#0000FF" stroke-width="2" fill="none"/>
<path d="M495.0 500V472.2" stroke="#0000FF" stroke-width="2" fill="none"/>
<path d="M510.0 500V490.5" stroke="#0000FF" stroke-width="2" fill="none"/>
<path d="M541.0 500V484.0" stroke="#0000FF" stroke-width="2" fill="none"/>
<path d="M556.0 500V448.5" stroke="#0000FF" stroke-width="2" fill="none"/>
<path d="M587.0 500V493.0" stroke="#0000FF" stroke-width="2" fill="none"/>
<path d="M602.0 500V335.6" stroke="#0000FF" stroke-width="2" fill="none"/>
<path d="M617.0 500V497.4" stroke="#0000FF" stroke-width="2" fill="none"/>
<path d="M648.0 500V466.8" stroke="#0000FF" stroke-width="2" fill="none"/>
<polyline points="188.0,499.6 203.3,498.0 218.7,448.4 234.0,423.3 249.3,423.3 264.7,423.3 280.0,423.3 295.3,423.3 310.7,423.3 326.0,423.3 341.3,423.3 356.7,423.3 372.0,423.3 387.3,423.3 402.7,423.3 418.0,423.3 433.3,423.3 448.7,423.3 464.0,423.3 479.3,423.3 494.7,396.5 510.0,385.3 525.3,385.3 540.7,369.0 556.0,316.2 571.3,316.2 586.7,309.7 602.0,145.7 617.3,144.0 632.7,144.0 648.0,113.4" fill="none" stroke="#0000FF" stroke-width="1" />
<polyline points="188.0,498.3 203.3,494.8 218.7,492.8 234.0,484.0 249.3,480.3 264.7,480.3 280.0,486.0 295.3,493.2 310.7,483.6 326.0,496.7 341.3,494.4 356.7,497.3 372.0,499.0 387.3,498.3 402.7,479.3 418.0,493.2 433.3,488.6 448.7,489.0 464.0,498.3 479.3,494.8 494.7,499.0 510.0,486.2 525.3,491.6 540.7,491.6 556.0,494.8 571.3,485.6 586.7,488.4 602.0,490.5 617.3,497.4 632.7,496.4 648.0,496.4" fill="none" stroke="#000000" stroke-width="1" />
</g>
<polyline points="188.0,253.8 203.3,233.4 218.7,259.4 234.0,328.2 249.3,336.3 264.7,327.1 280.0,331.1 295.3,318.4 310.7,312.0 326.0,311.5 341.3,284.2 356.7,279.0 372.0,281.9 387.3,276.0 402.7,294.4 418.0,314.5 433.3,307.4 448.7,315.9 464.0,294.4 479.3,258.7 494.7,291.3 510.0,318.3 525.3,339.9 540.7,331.9 556.0,307.5 571.3,291.3 586.7,282.0 602.0,298.8 617.3,285.7 632.7,223.4 648.0,225.6" fill="none" stroke="#007000" stroke-width="2.1" stroke-linejoin="round"/>
</g>
<g shape-rendering="crispEdges">
<path d="M184 291.5H188" stroke="#FF0080"/><path d="M184 303.5H188" stroke="#008040"/>
<path d="M188.5 501V505M203.5 501V505M219.5 501V505M234.5 501V505M249.5 501V505M265.5 501V505M280.5 501V505M295.5 501V505M311.5 501V505M326.5 501V505M341.5 501V505M357.5 501V505M372.5 501V505M387.5 501V505M403.5 501V505M418.5 501V505M433.5 501V505M449.5 501V505M464.5 501V505M479.5 501V505M495.5 501V505M510.5 501V505M525.5 501V505M541.5 501V505M556.5 501V505M571.5 501V505M587.5 501V505M602.5 501V505M617.5 501V505M633.5 501V505M648.5 501V505" stroke="#808080" stroke-width="1" fill="none"/>
<path d="M369.5 500V508M590.5 500V508" stroke="#000" stroke-width="1" fill="none"/>
</g>
<circle cx="369.5" cy="525.5" r="5" fill="#fff" stroke="#000" stroke-width="1.2"/>
<circle cx="590.5" cy="525.5" r="5.4" fill="#000"/>
<text transform="translate(188.3,519.0) scale(0.910,1)" font-size="12" text-anchor="middle" fill="#000">1</text>
<text transform="translate(203.6,519.0) scale(0.910,1)" font-size="12" text-anchor="middle" fill="#000">2</text>
<text transform="translate(219.0,519.0) scale(0.910,1)" font-size="12" text-anchor="middle" fill="#000">3</text>
<text transform="translate(234.3,519.0) scale(0.910,1)" font-size="12" text-anchor="middle" fill="#000">4</text>
<text transform="translate(249.6,519.0) scale(0.910,1)" font-size="12" text-anchor="middle" fill="#000">5</text>
<text transform="translate(265.0,519.0) scale(0.910,1)" font-size="12" text-anchor="middle" fill="#000">6</text>
<text transform="translate(280.3,519.0) scale(0.910,1)" font-size="12" text-anchor="middle" fill="#000">7</text>
<text transform="translate(295.6,519.0) scale(0.910,1)" font-size="12" text-anchor="middle" fill="#000">8</text>
<text transform="translate(311.0,519.0) scale(0.910,1)" font-size="12" text-anchor="middle" fill="#000">9</text>
<text transform="translate(326.3,519.0) scale(0.910,1)" font-size="12" text-anchor="middle" fill="#000">10</text>
<text transform="translate(341.6,519.0) scale(0.910,1)" font-size="12" text-anchor="middle" fill="#000">11</text>
<text transform="translate(357.0,519.0) scale(0.910,1)" font-size="12" text-anchor="middle" fill="#000">12</text>
<text transform="translate(372.3,519.0) scale(0.910,1)" font-size="12" text-anchor="middle" fill="#000">13</text>
<text transform="translate(387.6,519.0) scale(0.910,1)" font-size="12" text-anchor="middle" fill="#000">14</text>
<text transform="translate(403.0,519.0) scale(0.910,1)" font-size="12" text-anchor="middle" fill="#000">15</text>
<text transform="translate(418.3,519.0) scale(0.910,1)" font-size="12" text-anchor="middle" fill="#000">16</text>
<text transform="translate(433.6,519.0) scale(0.910,1)" font-size="12" text-anchor="middle" fill="#000">17</text>
<text transform="translate(449.0,519.0) scale(0.910,1)" font-size="12" text-anchor="middle" fill="#000">18</text>
<text transform="translate(464.3,519.0) scale(0.910,1)" font-size="12" text-anchor="middle" fill="#000">19</text>
<text transform="translate(479.6,519.0) scale(0.910,1)" font-size="12" text-anchor="middle" fill="#000">20</text>
<text transform="translate(495.0,519.0) scale(0.910,1)" font-size="12" text-anchor="middle" fill="#000">21</text>
<text transform="translate(510.3,519.0) scale(0.910,1)" font-size="12" text-anchor="middle" fill="#000">22</text>
<text transform="translate(525.6,519.0) scale(0.910,1)" font-size="12" text-anchor="middle" fill="#000">23</text>
<text transform="translate(541.0,519.0) scale(0.910,1)" font-size="12" text-anchor="middle" fill="#000">24</text>
<text transform="translate(556.3,519.0) scale(0.910,1)" font-size="12" text-anchor="middle" fill="#000">25</text>
<text transform="translate(571.6,519.0) scale(0.910,1)" font-size="12" text-anchor="middle" fill="#000">26</text>
<text transform="translate(587.0,519.0) scale(0.910,1)" font-size="12" text-anchor="middle" fill="#000">27</text>
<text transform="translate(602.3,519.0) scale(0.910,1)" font-size="12" text-anchor="middle" fill="#000">28</text>
<text transform="translate(617.6,519.0) scale(0.910,1)" font-size="12" text-anchor="middle" fill="#000">29</text>
<text transform="translate(633.0,519.0) scale(0.910,1)" font-size="12" text-anchor="middle" fill="#000">30</text>
<text transform="translate(648.3,519.0) scale(0.910,1)" font-size="12" text-anchor="middle" fill="#000">31</text>
<g shape-rendering="crispEdges">
<rect x="1" y="534" width="834" height="86" fill="#C0C0C0"/>
<path d="M1 534.5H835" stroke="#ADADAD" stroke-width="1"/>
<path d="M87.5 534V620" stroke="#fff" stroke-width="1"/>
<path d="M88.5 534V620" stroke="#969696" stroke-width="1"/>
<path d="M205.5 534V620" stroke="#fff" stroke-width="1"/>
<path d="M206.5 534V620" stroke="#969696" stroke-width="1"/>
<path d="M323.5 534V620" stroke="#fff" stroke-width="1"/>
<path d="M324.5 534V620" stroke="#969696" stroke-width="1"/>
<path d="M440.5 534V620" stroke="#fff" stroke-width="1"/>
<path d="M441.5 534V620" stroke="#969696" stroke-width="1"/>
<path d="M558.5 534V620" stroke="#fff" stroke-width="1"/>
<path d="M559.5 534V620" stroke="#969696" stroke-width="1"/>
<path d="M676.5 534V620" stroke="#fff" stroke-width="1"/>
<path d="M677.5 534V620" stroke="#969696" stroke-width="1"/>
<path d="M794.5 534V620" stroke="#fff" stroke-width="1"/>
<path d="M795.5 534V620" stroke="#969696" stroke-width="1"/>
</g>
<text transform="translate(8.8,551.5) scale(0.960,1)" font-size="12" font-weight="bold" fill="#000">Sensor</text>
<text transform="translate(8.8,567.5) scale(0.960,1)" font-size="12" font-weight="bold" fill="#000">MinWert</text>
<text transform="translate(8.8,583.5) scale(0.960,1)" font-size="12" font-weight="bold" fill="#000">MaxWert</text>
<text transform="translate(8.8,599.5) scale(0.960,1)" font-size="12" font-weight="bold" fill="#000">Durchschnitt</text>
<text transform="translate(8.8,615.5) scale(0.960,1)" font-size="12" font-weight="bold" fill="#000">31.05.</text>
<text transform="translate(94.8,551.5) scale(0.960,1)" font-size="12" font-weight="bold" word-spacing="2" fill="#000">T- 2m aktiv</text>
<text transform="translate(198.7,551.5) scale(0.960,1)" font-size="12" font-weight="bold" text-anchor="end" fill="#000">°C</text>
<text transform="translate(94.8,567.5) scale(0.910,1)" font-size="12" fill="#000">24.05.  05:35</text>
<text transform="translate(198.7,567.5) scale(0.910,1)" font-size="12" text-anchor="end" fill="#000">5.2</text>
<text transform="translate(94.8,583.5) scale(0.910,1)" font-size="12" fill="#000">31.05.  15:35</text>
<text transform="translate(198.7,583.5) scale(0.910,1)" font-size="12" text-anchor="end" fill="#000">31.6</text>
<text transform="translate(100.0,599.5) scale(0.910,1)" font-size="12" fill="#000">(+ 0.82 )</text>
<text transform="translate(198.7,599.5) scale(0.910,1)" font-size="12" text-anchor="end" fill="#000">16.12</text>
<text transform="translate(198.7,615.5) scale(0.960,1)" font-size="12" font-weight="bold" text-anchor="end" fill="#000">22.0</text>
<text transform="translate(212.4,551.5) scale(0.960,1)" font-size="12" font-weight="bold" word-spacing="2" fill="#000">F- 2m aktiv</text>
<text transform="translate(316.0,551.5) scale(0.960,1)" font-size="12" font-weight="bold" text-anchor="end" fill="#000">%</text>
<text transform="translate(212.4,567.5) scale(0.910,1)" font-size="12" fill="#000">14.05.  17:20</text>
<text transform="translate(316.0,567.5) scale(0.910,1)" font-size="12" text-anchor="end" fill="#000">26</text>
<text transform="translate(212.4,583.5) scale(0.910,1)" font-size="12" fill="#000">29.05.  08:20</text>
<text transform="translate(316.0,583.5) scale(0.910,1)" font-size="12" text-anchor="end" fill="#000">96</text>
<text transform="translate(316.0,599.5) scale(0.910,1)" font-size="12" text-anchor="end" fill="#000">63</text>
<text transform="translate(215.3,615.5) scale(0.910,1)" font-size="12" fill="#000">14.52 g/m³</text>
<text transform="translate(316.0,615.5) scale(0.960,1)" font-size="12" font-weight="bold" text-anchor="end" fill="#000">75</text>
<text transform="translate(331.0,551.5) scale(0.960,1)" font-size="12" font-weight="bold" fill="#000">Luftdruck</text>
<text transform="translate(434.5,551.5) scale(0.960,1)" font-size="12" font-weight="bold" text-anchor="end" fill="#000">hPa</text>
<text transform="translate(331.0,567.5) scale(0.910,1)" font-size="12" fill="#000">03.05.  18:35</text>
<text transform="translate(434.5,567.5) scale(0.910,1)" font-size="12" text-anchor="end" fill="#000">1003.4</text>
<text transform="translate(331.0,583.5) scale(0.910,1)" font-size="12" fill="#000">29.05.  09:15</text>
<text transform="translate(434.5,583.5) scale(0.910,1)" font-size="12" text-anchor="end" fill="#000">1022.8</text>
<text transform="translate(434.5,599.5) scale(0.910,1)" font-size="12" text-anchor="end" fill="#000">1014.6</text>
<text transform="translate(434.5,615.5) scale(0.960,1)" font-size="12" font-weight="bold" text-anchor="end" fill="#000">1016.5</text>
<text transform="translate(448.7,551.5) scale(0.960,1)" font-size="12" font-weight="bold" fill="#000">Windböen</text>
<text transform="translate(552.3,551.5) scale(0.960,1)" font-size="12" font-weight="bold" text-anchor="end" fill="#000">km/h</text>
<text transform="translate(448.7,567.5) scale(0.910,1)" font-size="12" fill="#000">01.05.  00:05</text>
<text transform="translate(552.3,567.5) scale(0.910,1)" font-size="12" text-anchor="end" fill="#000">0.0</text>
<text transform="translate(448.7,583.5) scale(0.910,1)" font-size="12" fill="#000">31.05.  17:45</text>
<text transform="translate(552.3,583.5) scale(0.910,1)" font-size="12" text-anchor="end" fill="#000">S 43.5</text>
<text transform="translate(552.3,599.5) scale(0.910,1)" font-size="12" text-anchor="end" fill="#000">5.6</text>
<text transform="translate(454.8,615.5) scale(0.910,1)" font-size="12" fill="#000">1 Bft S</text>
<text transform="translate(552.3,615.5) scale(0.960,1)" font-size="12" font-weight="bold" text-anchor="end" fill="#000">3.4</text>
<text transform="translate(567.3,551.5) scale(0.960,1)" font-size="12" font-weight="bold" fill="#000">Regen</text>
<text transform="translate(670.3,551.5) scale(0.960,1)" font-size="12" font-weight="bold" text-anchor="end" fill="#000">l/m²</text>
<text transform="translate(567.3,567.5) scale(0.910,1)" font-size="12" fill="#000">Regentage: 18</text>
<text transform="translate(567.3,583.5) scale(0.910,1)" font-size="12" fill="#000">28.05.  21:30</text>
<text transform="translate(670.3,583.5) scale(0.910,1)" font-size="12" text-anchor="end" fill="#000">20.0</text>
<text transform="translate(567.3,599.5) scale(0.910,1)" font-size="12" fill="#000">Gesamt:</text>
<text transform="translate(670.3,599.5) scale(0.910,1)" font-size="12" text-anchor="end" fill="#000">47.4</text>
<text transform="translate(570.0,615.5) scale(0.910,1)" font-size="12" fill="#000">47.4 l/m²</text>
<text transform="translate(670.3,615.5) scale(0.960,1)" font-size="12" font-weight="bold" text-anchor="end" fill="#000">4.0</text>
<text transform="translate(684.3,551.5) scale(0.960,1)" font-size="12" font-weight="bold" fill="#000">PMV+3:27</text>
<text transform="translate(684.3,567.5) scale(0.910,1)" font-size="12" fill="#000">WC 22.0 °C</text>
<text transform="translate(684.3,583.5) scale(0.910,1)" font-size="12" fill="#000">TP 16.8 °C</text>
</svg></body></html>
